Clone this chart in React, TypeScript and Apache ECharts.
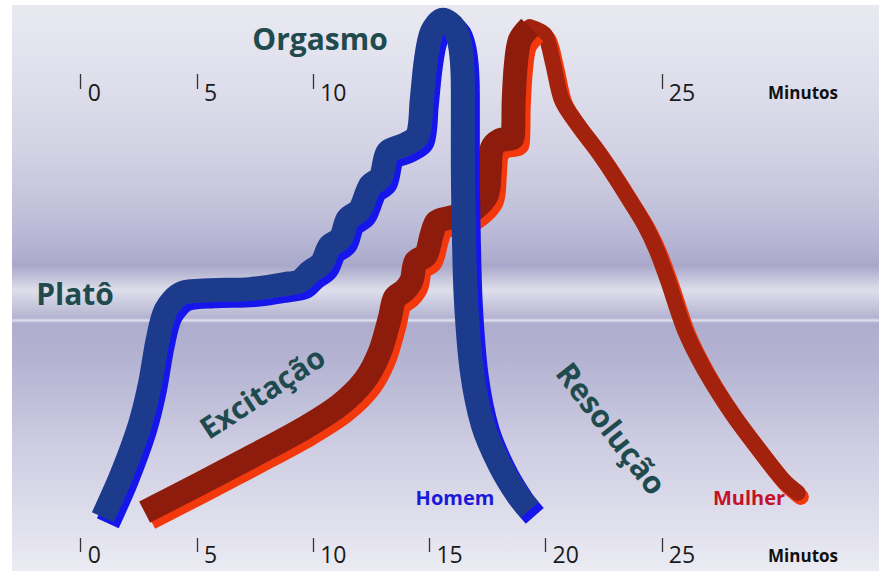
import React, { useEffect, useRef } from "react";
import * as echarts from "echarts";

// ---- data (minutes, arousal level 0-100) ----
const bottomTicks = [0, 5, 10, 15, 20, 25];
const topTicks = [0, 5, 10, 25];
const axisUnit = "Minutos";

const homem: [number, number][] = [
  [0.95, 9.5], [1.76, 17.0], [2.54, 25.8], [2.97, 32.9], [3.31, 40.8], [3.66, 46.1],
  [4.35, 49.1], [5.55, 49.6], [7.27, 49.8], [8.78, 50.7], [9.42, 51.2],
  [9.85, 52.8], [10.37, 54.4], [10.71, 57.4], [11.19, 58.8], [11.49, 62.2], [12.01, 63.8],
  [12.44, 68.0], [12.91, 69.6], [13.21, 74.0], [13.94, 75.3], [14.5, 77.0],
  [14.67, 83.2], [14.85, 90.3], [15.1, 95.2], [15.58, 97.4], [16.09, 95.9], [16.35, 92.0],
  [16.44, 85.0], [16.44, 72.6], [16.48, 60.2], [16.57, 47.9], [16.82, 35.5], [17.3, 25.8],
  [18.03, 18.7], [18.8, 13.4], [19.32, 10.8],
];

const mulher: [number, number][] = [
  [2.75, 10.4], [5.12, 15.4], [7.49, 20.5], [9.64, 25.3], [11.14, 29.3], [12.22, 33.7],
  [12.87, 38.7], [13.3, 44.7], [13.51, 48.2], [13.94, 49.6], [14.24, 51.4], [14.41, 54.6],
  [14.85, 55.8], [15.1, 59.4], [15.32, 61.7], [15.88, 62.4], [16.74, 63.4], [17.47, 66.4],
  [17.6, 70.8], [17.69, 74.7], [18.03, 76.1], [18.59, 76.7], [18.63, 83.2], [18.72, 89.4],
  [18.89, 93.8], [19.32, 96.1], [19.97, 94.7], [20.31, 89.9], [20.7, 83.2], [21.39, 78.8],
  [22.2, 74.4], [22.93, 70.0], [23.62, 65.5], [24.27, 61.1], [24.78, 56.7], [25.26, 51.4],
  [25.99, 42.6], [26.85, 35.5], [28.01, 27.9], [29.13, 21.7], [30.21, 16.1], [30.85, 13.8],
];
const mulherPeak = 25; // index of the peak, where the resolution part starts

const W = 879;
const H = 571;
const FONT = "'Open Sans', 'DejaVu Sans', sans-serif";
const TEAL = "#1f4b4e";

function ribbon(data: [number, number][], face: string, edge: string, width: number, off: number, cap = "butt") {
  return {
    type: "line",
    xAxisIndex: 0,
    yAxisIndex: 0,
    data,
    smooth: 0.3,
    symbol: "none",
    clip: false,
    silent: true,
    lineStyle: {
      width,
      color: face,
      join: "round",
      cap,
      shadowColor: edge,
      shadowOffsetX: off,
      shadowOffsetY: off + 1,
      shadowBlur: 1,
    },
  };
}

function tickAxis(position: "top" | "bottom", values: number[]) {
  const top = position === "top";
  return {
    gridIndex: 1,
    type: "value",
    min: -3,
    max: 34,
    position,
    axisLine: { show: false, onZero: false },
    splitLine: { show: false },
    axisTick: {
      show: true,
      inside: true,
      length: top ? 15 : 14,
      customValues: values,
      lineStyle: { color: "#333", width: 1.3 },
    },
    axisLabel: {
      customValues: values,
      align: "left",
      verticalAlign: "middle",
      margin: top ? -18 : 2,
      padding: [0, 0, 0, 7],
      fontSize: 23,
      color: "#1a1a1a",
      fontFamily: FONT,
    },
    name: axisUnit,
    nameLocation: "end",
    nameGap: -33,
    nameTextStyle: {
      align: "right",
      verticalAlign: "top",
      lineHeight: top ? 36 : 6,
      fontSize: 17,
      fontWeight: "bold",
      color: "#111",
      fontFamily: FONT,
    },
  };
}

function label(text: string, x: number, y: number, size: number, color: string, rotation = 0) {
  return {
    type: "text",
    x,
    y,
    rotation,
    z: 5,
    silent: true,
    style: {
      text,
      fill: color,
      font: `bold ${size}px ${FONT}`,
      align: "center",
      verticalAlign: "middle",
    },
  };
}

export default function App() {
  const ref = useRef<HTMLDivElement>(null);
  useEffect(() => {
    const chart = echarts.init(ref.current!, null, { renderer: "svg", width: W, height: H });
    chart.setOption({
      animation: false,
      backgroundColor: "#ffffff",
      grid: [
        { left: 11, right: 8, top: 5, bottom: 0 },
        { left: 11, right: 8, top: 74, bottom: 19 },
      ],
      xAxis: [
        { gridIndex: 0, type: "value", min: -3, max: 34, show: false },
        tickAxis("top", topTicks),
        tickAxis("bottom", bottomTicks),
      ],
      yAxis: [
        { gridIndex: 0, type: "value", min: 0, max: 100, show: false },
        { gridIndex: 1, type: "value", min: 0, max: 1, show: false },
      ],
      graphic: [
        {
          type: "rect",
          z: -10,
          silent: true,
          shape: { x: 12, y: 5, width: W - 12, height: H - 5 },
          style: {
            fill: {
              type: "linear",
              x: 0, y: 0, x2: 0, y2: 1,
              colorStops: [
                { offset: 0, color: "#e9e9f1" },
                { offset: 0.1, color: "#e2e2ee" },
                { offset: 0.26, color: "#d2d2e4" },
                { offset: 0.38, color: "#bfbed9" },
                { offset: 0.447, color: "#aeadcf" },
                { offset: 0.461, color: "#a9a8ca" },
                { offset: 0.504, color: "#dedeeb" },
                { offset: 0.542, color: "#bebdd8" },
                { offset: 0.553, color: "#b3b2d2" },
                { offset: 0.557, color: "#e0e0ec" },
                { offset: 0.562, color: "#aeadcd" },
                { offset: 0.627, color: "#b4b3d2" },
                { offset: 0.786, color: "#cfcee3" },
                { offset: 1, color: "#ebebf3" },
              ],
            },
          },
        },
        label("Orgasmo", 320, 38, 30, TEAL),
        label("Platô", 75, 293, 30, TEAL),
        label("Excitação", 262, 392, 30, TEAL, (33 * Math.PI) / 180),
        label("Resolução", 612, 428, 31, TEAL, (-52 * Math.PI) / 180),
        label("Homem", 455, 497, 20, "#1a1ad8"),
        label("Mulher", 749, 497, 20, "#c3112a"),
      ],
      series: [
        ribbon(mulher.slice(mulherPeak), "#a3230a", "#f2380f", 16, 3, "round"),
        ribbon(mulher.slice(0, mulherPeak + 1), "#8e1d08", "#f2380f", 24, 5),
        ribbon(homem, "#1d3b8c", "#1616ea", 24, 5),
      ],
    });
    return () => chart.dispose();
  }, []);
  return <div ref={ref} style={{ position: "fixed", left: 0, top: 0, width: W, height: H }} />;
}
